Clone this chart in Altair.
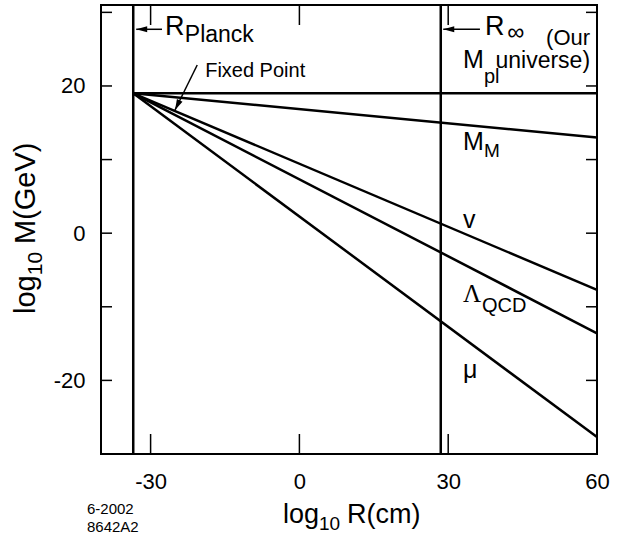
import altair as alt
import pandas as pd

# log10 of the Planck length and of the size of our universe, in cm
r_planck = -33.5
r_universe = 28.5
# every mass scale starts from the Planck mass at the Planck length
fixed_point_m = 19.0

# scale names and their log10 mass (GeV) at the right edge, log10 R = 60
series = ["M_pl", "M_M", "v", "Lambda_QCD", "mu"]
m_at_edge = [19.0, 13.0, -7.7, -13.6, -27.7]
r_edge = 60

x_label_values = [-30, 0, 30, 60]
y_label_values = [20, 0, -20]
x_tick_values = [-30, 0, 30]
y_tick_values = [30, 20, 10, 0, -10, -20]

X_DOMAIN = [-40, 60]
Y_DOMAIN = [-30, 31]
W, H = 496, 449
SANS = "Liberation Sans"
SERIF = "Liberation Serif"

xs = alt.Scale(domain=X_DOMAIN, nice=False, zero=False)
ys = alt.Scale(domain=Y_DOMAIN, nice=False, zero=False)

# plain hyphen for negative labels
plain_label = "'' + datum.value"
x_axis = alt.Axis(values=x_label_values, ticks=False, domain=False, grid=False,
                  labelFontSize=22, labelPadding=17, labelFlush=False,
                  labelFont=SANS, labelColor="black", title=None,
                  labelExpr=plain_label)
y_axis = alt.Axis(values=y_label_values, ticks=False, domain=False, grid=False,
                  labelFontSize=22, labelPadding=16, labelFont=SANS,
                  labelColor="black", title=None, labelExpr=plain_label)


def X(field):
    return alt.X(field, scale=xs, axis=x_axis)


def Y(field):
    return alt.Y(field, scale=ys, axis=y_axis)


lines_df = pd.DataFrame({
    "name": series,
    "x0": [r_planck] * len(series),
    "y0": [fixed_point_m] * len(series),
    "x1": [r_edge] * len(series),
    "y1": m_at_edge,
})

scale_lines = alt.Chart(lines_df).mark_rule(color="black", strokeWidth=2.5).encode(
    x=X("x0:Q"), y=Y("y0:Q"), x2="x1:Q", y2="y1:Q",
)

verticals = alt.Chart(pd.DataFrame({"r": [r_planck, r_universe]})).mark_rule(
    color="black", strokeWidth=2.5
).encode(x=X("r:Q"))

# inward ticks on all four sides
xt = pd.DataFrame({"t": x_tick_values})
yt = pd.DataFrame({"t": y_tick_values})
tick_style = dict(color="black", strokeWidth=1.5)
ticks_bottom = alt.Chart(xt).mark_rule(**tick_style).encode(
    x=X("t:Q"), y=alt.value(H), y2=alt.value(H - 20))
ticks_top = alt.Chart(xt).mark_rule(**tick_style).encode(
    x=X("t:Q"), y=alt.value(0), y2=alt.value(20))
ticks_left = alt.Chart(yt).mark_rule(**tick_style).encode(
    y=Y("t:Q"), x=alt.value(0), x2=alt.value(11))
ticks_right = alt.Chart(yt).mark_rule(**tick_style).encode(
    y=Y("t:Q"), x=alt.value(W), x2=alt.value(W - 11))


def label(text, x, y, size, font=SANS, align="left"):
    """Text placed in data coordinates, anchored on its baseline."""
    return alt.Chart(pd.DataFrame({"t": [text], "x": [x], "y": [y]})).mark_text(
        font=font, fontSize=size, align=align, baseline="alphabetic", color="black"
    ).encode(x=X("x:Q"), y=Y("y:Q"), text="t:N")


def free_text(text, px, py, size, angle=0, dx=0, dy=0, align="left"):
    """Text placed in pixels relative to the plot area (titles, stamp)."""
    return alt.Chart(pd.DataFrame({"t": [text]})).mark_text(
        font=SANS, fontSize=size, align=align, baseline="alphabetic",
        color="black", angle=angle, dx=dx, dy=dy
    ).encode(x=alt.value(px), y=alt.value(py), text="t:N")


def arrow(x_tail, y_tail, x_tip, y_tip, angle):
    shaft = alt.Chart(pd.DataFrame({"x": [x_tail], "y": [y_tail],
                                    "x2": [x_tip], "y2": [y_tip]})).mark_rule(
        color="black", strokeWidth=1.5
    ).encode(x=X("x:Q"), y=Y("y:Q"), x2="x2:Q", y2="y2:Q")
    head = alt.Chart(pd.DataFrame({"x": [x_tip], "y": [y_tip]})).mark_point(
        shape="M 0 0 L 1 -0.28 L 1 0.28 Z", filled=True, size=484, angle=angle,
        color="black", opacity=1, strokeWidth=0
    ).encode(x=X("x:Q"), y=Y("y:Q"))
    return [shaft, head]


annotations = [
    label("R", -27.1, 26.9, 27),
    label("Planck", -23.1, 26.0, 23),
    label("Fixed Point", -19.0, 21.2, 20),
    label("R", 37.4, 26.9, 27),
    label("∞", 41.9, 26.2, 24),
    label("(Our", 58.6, 25.6, 22, align="right"),
    label("universe)", 58.6, 22.4, 23, align="right"),
    label("M", 33.0, 22.4, 25),
    label("pl", 37.2, 20.4, 20),
    label("M", 33.0, 11.3, 25),
    label("M", 37.2, 10.35, 19),
    label("v", 33.0, 0.7, 25),
    label("Λ", 33.0, -9.35, 25, font=SERIF),
    label("QCD", 36.8, -10.7, 20),
    label("μ", 33.0, -19.7, 25),
]
annotations += arrow(-27.7, 27.7, -32.9, 27.7, 0)
annotations += arrow(36.4, 27.7, 29.0, 27.7, 0)
annotations += arrow(-20.6, 22.85, -25.1, 16.7, 296)

# axis titles with subscripts, and the figure stamp
titles = [
    free_text("log", 182, 518, 27),
    free_text("10", 218, 525, 19),
    free_text("R(cm)", 246, 518, 27),
    free_text("log", -66, 309, 29, angle=270),
    free_text("10", -66, 309, 21, angle=270, dx=38.7, dy=7),
    free_text("M(GeV)", -66, 309, 29, angle=270, dx=70),
    free_text("6-2002", -14, 509, 15),
    free_text("8642A2", -14, 527, 15),
]

chart = alt.layer(
    scale_lines, verticals, ticks_bottom, ticks_top, ticks_left, ticks_right,
    *annotations, *titles
).properties(
    width=W, height=H,
    autosize=alt.AutoSizeParams(type="none"),
    padding={"left": 101, "top": 5, "right": 21, "bottom": 85},
).configure_view(stroke="black", strokeWidth=2)

chart.save("out.html", embed_options={"renderer": "svg", "actions": False})
